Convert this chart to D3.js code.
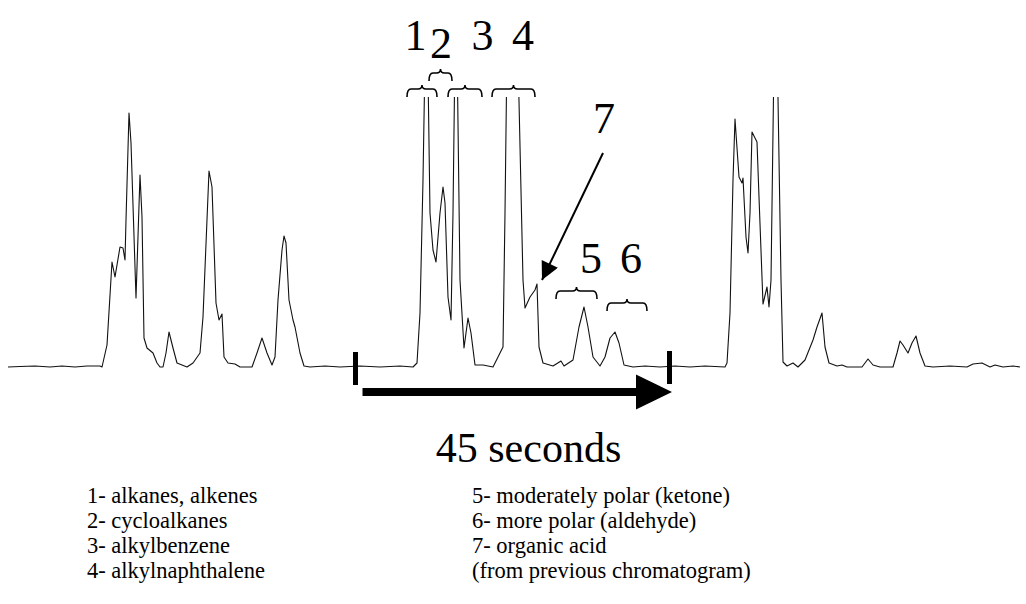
<!DOCTYPE html>
<html>
<head>
<meta charset="utf-8">
<script src="https://cdn.jsdelivr.net/npm/d3@7"></script>
<style>
  body { margin: 0; background: #fff; }
  svg text { font-family: "Liberation Serif", "Times New Roman", serif; }
</style>
</head>
<body>
<script>
// chart size
const width = 1026;
const height = 604;

// trace: scan number and detector signal (arbitrary units)
const scans = [0, 12, 27, 42, 54, 67, 79, 87, 92, 94, 99, 104, 107, 112, 115, 117, 118, 121, 123, 128,
  132, 134, 136, 139, 145, 149, 152, 155, 158, 161, 165, 169, 179, 185, 192, 195, 201, 204, 208, 211,
  214, 216, 220, 227, 232, 244, 249, 254, 259, 264, 267, 270, 274, 276, 278, 281, 285, 287, 292, 296,
  302, 317, 332, 352, 372, 392, 405, 409, 412, 415, 418.5, 422, 425, 428, 432, 435, 437, 440, 443, 445,
  448, 452, 456, 460, 463, 467, 475, 485, 495, 497, 500, 504, 508, 515, 517, 522, 527, 529, 531, 535,
  545, 553, 556, 565, 571, 576, 580, 585, 592, 597, 602, 607, 611, 616, 625, 637, 652, 667, 682, 697,
  717, 719, 722, 725, 727, 731, 734, 735, 738, 740, 742, 744, 749, 751, 755, 759, 761, 763, 767.5, 773,
  775, 779, 785, 790, 797, 805, 809, 814, 817, 821, 829, 834, 839, 854, 860, 865, 872, 885, 889, 892,
  895, 900, 904, 908, 912, 917, 925, 942, 959, 965, 974, 982, 987, 995, 1005, 1012];
const signal = [0, 0.5, 1, 0, 1, 0, 1, 1, 1, 0, 22, 105, 90, 120, 119, 107, 147, 254, 224, 69,
  192, 150, 29, 19, 14, 4, 0, 0, 14, 35, 19, 4, 0, 4, 14, 50, 196, 180, 64, 47,
  53, 10, 4, 3, 0, 0, 14, 29, 14, 2, 10, 67, 117, 131, 124, 67, 47, 40, 14, 1,
  0, 1, 0, 1, 0, 1, 0, 4, 54, 187, 400, 154, 117, 105, 154, 180, 164, 70, 47, 154,
  400, 87, 19, 49, 34, 2, 2, 0, 20, 154, 400, 450, 400, 87, 59, 70, 77, 83, 20, 4,
  1, 6, 1, 7, 40, 60, 40, 10, 1, 10, 29, 35, 24, 2, 0, 1, 0, 1, 0, 1,
  0, 4, 54, 187, 248, 190, 184, 189, 130, 114, 154, 235, 225, 170, 63, 80, 60, 87, 420, 87,
  5, 1, 4, 0, 7, 27, 40, 54, 20, 4, 1, 2, 0, 0, 8, 2, 0, 0, 14, 26,
  22, 14, 24, 31, 14, 1, 0, 1, 0, 3, 4, 0, 2, 0, 1, 0];

// peak group labels (scan, signal level of the text baseline)
const peakLabels = ["1", "2", "3", "4", "5", "6", "7"];
const labelScans = [407.5, 433, 474.5, 515, 583, 623, 596];
const labelLevels = [317, 309, 317, 317, 94, 94, 234];

// braces over the peak groups: start scan, end scan, signal level of the brace ends
const braceStart = [399, 421, 440, 484, 548, 599];
const braceEnd = [429, 444, 474, 527, 589, 639];
const braceLevel = [270, 286, 270, 270, 68, 56];

// arrow pointing at peak 7 (scan, signal) from -> to
const arrow7 = [[595, 214], [534, 87]];

// 45 second window
const windowScans = [347.5, 661.5];
const windowText = "45 seconds";

// legend
const legendLeft = ["1- alkanes, alkenes", "2- cycloalkanes", "3- alkylbenzene", "4- alkylnaphthalene"];
const legendRight = ["5- moderately polar (ketone)", "6- more polar (aldehyde)", "7- organic acid", "(from previous chromatogram)"];

const trace = scans.map((s, i) => [s, signal[i]]);

const svg = d3.select("body").append("svg")
  .attr("width", width)
  .attr("height", height);

const x = d3.scaleLinear().domain([0, 1012]).range([8, 1020]);
const y = d3.scaleLinear().domain([0, 270]).range([367, 97]);

const defs = svg.append("defs");
// big peaks run off the top of the plot
defs.append("clipPath").attr("id", "plotClip")
  .append("rect")
  .attr("x", 0).attr("y", y(270))
  .attr("width", width).attr("height", height - y(270));

// arrowhead marker
defs.append("marker")
  .attr("id", "head7")
  .attr("viewBox", "0 0 10 10")
  .attr("refX", 10).attr("refY", 5)
  .attr("markerWidth", 22).attr("markerHeight", 18)
  .attr("markerUnits", "userSpaceOnUse")
  .attr("orient", "auto")
  .append("path")
  .attr("d", "M0,0L10,5L0,10Z")
  .attr("fill", "#000");

// the chromatogram
svg.append("path")
  .datum(trace)
  .attr("clip-path", "url(#plotClip)")
  .attr("fill", "none")
  .attr("stroke", "#111")
  .attr("stroke-width", 1.1)
  .attr("stroke-linejoin", "round")
  .attr("d", d3.line().x(d => x(d[0])).y(d => y(d[1])));

// curly braces
function bracePath(x0, x1, yb) {
  const xc = (x0 + x1) / 2;
  const ym = yb - 8, yt = yb - 12, r = 4;
  return `M${x0},${yb}Q${x0},${ym} ${x0 + r},${ym}L${xc - r},${ym}Q${xc},${ym} ${xc},${yt}` +
    `Q${xc},${ym} ${xc + r},${ym}L${x1 - r},${ym}Q${x1},${ym} ${x1},${yb}`;
}
svg.append("g").selectAll("path")
  .data(braceStart.map((s, i) => [s, braceEnd[i], braceLevel[i]]))
  .enter().append("path")
  .attr("d", d => bracePath(x(d[0]), x(d[1]), y(d[2])))
  .attr("fill", "none")
  .attr("stroke", "#000")
  .attr("stroke-width", 1.6);

// peak numbers
svg.append("g").selectAll("text")
  .data(peakLabels)
  .enter().append("text")
  .attr("x", (d, i) => x(labelScans[i]))
  .attr("y", (d, i) => y(labelLevels[i]))
  .attr("text-anchor", "middle")
  .style("font-size", "44px")
  .text(d => d);

// arrow to the organic acid shoulder
svg.append("line")
  .attr("x1", x(arrow7[0][0])).attr("y1", y(arrow7[0][1]))
  .attr("x2", x(arrow7[1][0])).attr("y2", y(arrow7[1][1]))
  .attr("stroke", "#000")
  .attr("stroke-width", 2)
  .attr("marker-end", "url(#head7)");

// 45 second window: end bars and thick arrow
const wy = y(0);
svg.append("g").selectAll("rect")
  .data(windowScans)
  .enter().append("rect")
  .attr("x", d => x(d) - 2.5)
  .attr("y", (d, i) => wy - 15 - i)
  .attr("width", 5)
  .attr("height", 33)
  .attr("fill", "#000");

const ax0 = x(windowScans[0]) + 7, ax1 = x(windowScans[1]) + 2.5, ay = wy + 25;
svg.append("rect")
  .attr("x", ax0).attr("y", ay - 4)
  .attr("width", ax1 - 35 - ax0).attr("height", 8)
  .attr("fill", "#000");
svg.append("path")
  .attr("d", `M${ax1 - 36},${ay - 17.5}L${ax1},${ay}L${ax1 - 36},${ay + 17.5}Z`)
  .attr("fill", "#000");

svg.append("text")
  .attr("x", (x(windowScans[0]) + x(windowScans[1])) / 2 + 16)
  .attr("y", 462)
  .attr("text-anchor", "middle")
  .style("font-size", "42px")
  .text(windowText);

// legend, two columns
function legendColumn(items, left) {
  svg.append("g").selectAll("text")
    .data(items)
    .enter().append("text")
    .attr("x", left)
    .attr("y", (d, i) => 503 + i * 25)
    .style("font-size", "22.5px")
    .text(d => d);
}
legendColumn(legendLeft, 87);
legendColumn(legendRight, 472);
</script>
</body>
</html>
